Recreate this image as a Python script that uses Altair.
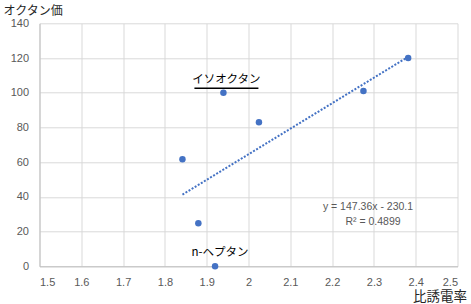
import altair as alt
import pandas as pd

# data
eps = [1.842, 1.88, 1.92, 1.94, 2.025, 2.275, 2.382]
octane = [61.7, 24.8, 0, 100, 83, 101, 120]

label_names = ["イソオクタン", "n-ヘプタン"]
label_x = [1.94, 1.92]
label_y = [100, 0]

eq_text = "y = 147.36x - 230.1"
r2_text = "R² = 0.4899"

x_ticks = [1.5, 1.6, 1.7, 1.8, 1.9, 2.0, 2.1, 2.2, 2.3, 2.4, 2.5]
y_ticks = [0, 20, 40, 60, 80, 100, 120, 140]

df = pd.DataFrame({"x": eps, "y": octane})
lab = pd.DataFrame({"name": label_names, "x": label_x, "y": label_y})
eq = pd.DataFrame({"t": [eq_text], "r": [r2_text]})

JP = "Noto Sans CJK JP"
NUM = "Liberation Sans"
BLUE = "#4472C4"

xs = alt.Scale(domain=[1.5, 2.5], nice=False, zero=False)
ys = alt.Scale(domain=[0, 140], nice=False, zero=True)

xax = alt.Axis(values=x_ticks, format="~g", grid=True, gridColor="#d9d9d9",
               domainColor="#bfbfbf", ticks=False, labelColor="#595959",
               labelFont=NUM, labelFontSize=11, labelPadding=10,
               labelOverlap=False,
               title="比誘電率", titleFont=JP, titleFontSize=13.5, titleFontWeight="normal",
               titleColor="#262626", titleAlign="right", titleBaseline="middle",
               titleX=427, titleY=30.5)
yax = alt.Axis(values=y_ticks, tickCount=8, grid=True, gridColor="#d9d9d9",
               domainColor="#bfbfbf", ticks=False, labelColor="#595959",
               labelFont=NUM, labelFontSize=11, labelPadding=11,
               labelOverlap=False,
               title="オクタン価", titleFont=JP, titleFontSize=12, titleFontWeight="normal",
               titleColor="#262626", titleAngle=0, titleAlign="left", titleBaseline="middle",
               titleX=-36.5, titleY=-13)

X = alt.X("x:Q", scale=xs, axis=xax)
Y = alt.Y("y:Q", scale=ys, axis=yax)

base = alt.Chart(df)

points = base.mark_circle(size=42, color=BLUE, opacity=1).encode(x=X, y=Y)

trend = base.transform_regression("x", "y", method="linear").mark_line(
    color=BLUE, strokeDash=[2, 1.6], strokeWidth=2
).encode(x=X, y=Y)

lab_base = alt.Chart(lab)
label_iso = lab_base.transform_filter("datum.name == 'イソオクタン'").mark_text(
    font=JP, fontSize=11.5, color="#000000", baseline="middle", dy=-13, dx=3
).encode(x=X, y=Y, text="name:N")

label_hep = lab_base.transform_filter("datum.name == 'n-ヘプタン'").mark_text(
    font=JP, fontSize=11.5, color="#000000", baseline="middle", dy=-13.5, dx=5
).encode(x=X, y=Y, text="name:N")

underline = lab_base.transform_filter("datum.name == 'イソオクタン'").mark_rule(
    color="#000000", strokeWidth=1.3, xOffset=-29, x2Offset=35, yOffset=-4.5
).encode(x=X, x2="x:Q", y=Y)

eq_line = alt.Chart(eq).mark_text(font=NUM, fontSize=10.5, color="#595959",
                                  baseline="middle", align="center").encode(
    x=alt.value(328.5), y=alt.value(183.7), text="t:N")
r2_line = alt.Chart(eq).mark_text(font=NUM, fontSize=10.5, color="#595959",
                                  baseline="middle", align="center").encode(
    x=alt.value(333.5), y=alt.value(198.7), text="r:N")

chart = alt.layer(points, trend, label_iso, label_hep, underline, eq_line, r2_line).properties(
    width=418, height=243,
    background="white",
    autosize=alt.AutoSizeParams(type="none"),
    padding={"left": 39.5, "top": 23.3, "right": 13.5, "bottom": 37.7},
).configure_view(stroke=None)

chart.save("out.html", embed_options={"renderer": "svg", "actions": False})
